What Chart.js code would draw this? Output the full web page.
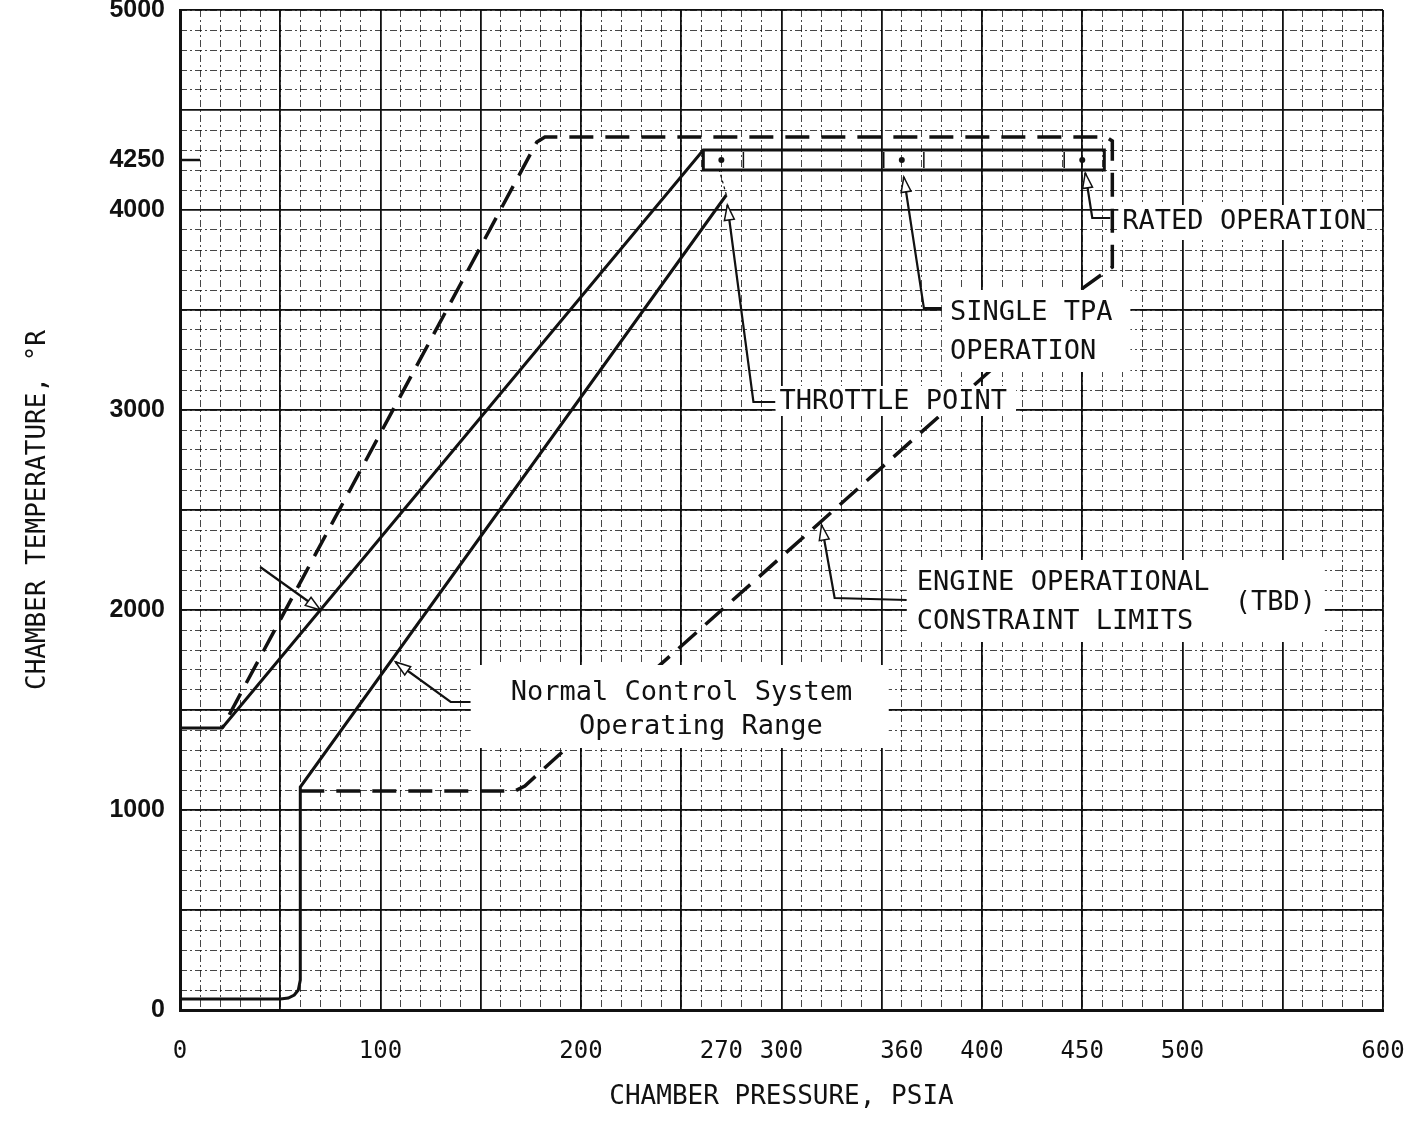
<!DOCTYPE html>
<html>
<head>
<meta charset="utf-8">
<script src="https://cdn.jsdelivr.net/npm/chart.js@4.4.1/dist/chart.umd.min.js"></script>
<style>
  html, body { margin: 0; padding: 0; background: #fff; }
  #wrap { width: 1407px; height: 1122px; }
</style>
</head>
<body>
<div id="wrap"><canvas id="chart" width="1407" height="1122"></canvas></div>
<script>
// axis ticks (chamber pressure in psia, chamber temperature in deg R)
const xTicks = [0, 100, 200, 270, 300, 360, 400, 450, 500, 600];
const yTicks = [0, 1000, 2000, 3000, 4000, 4250, 5000];

// upper solid edge of the normal range, running into the rated band box
const upperP = [0, 21, 261, 461, 461, 261, 261];
const upperT = [1410, 1410, 4300, 4300, 4200, 4200, 4300];

// lower solid edge: start transient, step, then ramp to the throttle point
const lowerP = [0, 50, 54, 57, 59, 60, 60, 272.5];
const lowerT = [55, 55, 60, 75, 100, 150, 1115, 4075];

// dashed engine constraint envelope
const limitP = [60, 167, 172, 189, 451, 465, 465, 462, 182, 178, 21];
const limitT = [1095, 1095, 1120, 1275, 3615, 3715, 4345, 4365, 4365, 4340, 1410];

// thin link from the ramp end up to the band
const linkP = [272.5, 269];
const linkT = [4075, 4200];

// operating points inside the band, and the band dividers
const pointP = [270, 360, 450];
const pointT = [4250, 4250, 4250];
const dividerP = [281, 351, 371, 441];
const dividerLo = 4210;
const dividerHi = 4290;

// tick mark at 4250 on the left axis
const markP = [0, 10];
const markT = [4250, 4250];

// leader lines (first point carries the arrow head)
const leaderRated = { p: [451.5, 455, 464], t: [4185, 3960, 3960] };
const leaderTpa = { p: [361, 371, 381], t: [4165, 3510, 3510] };
const leaderThrottle = { p: [273, 286, 297], t: [4025, 3040, 3040] };
const leaderEngine = { p: [320, 326.5, 362.5], t: [2425, 2060, 2050] };
const leaderNormal = { p: [107.5, 135, 145], t: [1740, 1540, 1540] };
const leaderUpper = { p: [70, 40], t: [2000, 2215] };
const leaders = [leaderRated, leaderTpa, leaderThrottle, leaderEngine, leaderNormal, leaderUpper];

function pts(ps, ts) {
  return ps.map((p, i) => ({ x: p, y: ts[i] }));
}

function dividerPts() {
  const out = [];
  dividerP.forEach(p => {
    out.push({ x: p, y: dividerLo }, { x: p, y: dividerHi }, { x: p, y: null });
  });
  return out;
}

const lineBase = { showLine: true, pointRadius: 0, borderColor: "#111", tension: 0, fill: false };

const datasets = [
  { ...lineBase, data: pts(upperP, upperT), borderWidth: 3 },
  { ...lineBase, data: pts(lowerP, lowerT), borderWidth: 3 },
  { ...lineBase, data: pts(limitP, limitT), borderWidth: 3.5, borderDash: [24, 12] },
  { ...lineBase, data: pts(linkP, linkT), borderWidth: 1.2, borderDash: [3, 3] },
  { ...lineBase, data: dividerPts(), borderWidth: 1.5, spanGaps: false },
  { ...lineBase, data: pts(markP, markT), borderWidth: 2.5 },
  { showLine: false, data: pts(pointP, pointT), pointRadius: 3, pointBackgroundColor: "#111", pointBorderWidth: 0 }
];
leaders.forEach(l => {
  datasets.push({ ...lineBase, data: pts(l.p, l.t), borderWidth: 2.2 });
});

// label boxes: [pLeft, pRight, tLow, tHigh], text lines: [text, pLeft, tCenter]
const notes = [
  { box: [468, 592, 3850, 4025], lines: [["RATED OPERATION", 470, 3940]] },
  { box: [380, 474, 3190, 3600], lines: [["SINGLE TPA", 384, 3485], ["OPERATION", 384, 3290]] },
  { box: [297, 417, 2970, 3120], lines: [["THROTTLE POINT", 299, 3040]] },
  { box: [362.5, 571, 1840, 2250], lines: [["ENGINE OPERATIONAL", 367.5, 2135], ["CONSTRAINT LIMITS", 367.5, 1940], ["(TBD)", 526, 2035]] },
  { box: [145, 353.5, 1310, 1725], lines: [["Normal Control System", 165, 1585], ["Operating Range", 199, 1415]] }
];

const notesPlugin = {
  id: "notes",
  afterDatasetsDraw(chart) {
    const { ctx, scales: { x, y } } = chart;
    ctx.save();
    notes.forEach(n => {
      const [p0, p1, t0, t1] = n.box;
      const x0 = x.getPixelForValue(p0), x1 = x.getPixelForValue(p1);
      const y0 = y.getPixelForValue(t1), y1 = y.getPixelForValue(t0);
      ctx.fillStyle = "#fff";
      ctx.fillRect(x0, y0, x1 - x0, y1 - y0);
    });
    ctx.fillStyle = "#111";
    ctx.font = '27px "DejaVu Sans Mono"';
    ctx.textBaseline = "middle";
    ctx.textAlign = "left";
    notes.forEach(n => {
      n.lines.forEach(([txt, p, t]) => {
        ctx.fillText(txt, x.getPixelForValue(p), y.getPixelForValue(t));
      });
    });
    // open arrow heads on the leaders
    ctx.strokeStyle = "#111";
    ctx.lineWidth = 1.5;
    leaders.forEach(l => {
      const tx = x.getPixelForValue(l.p[0]), ty = y.getPixelForValue(l.t[0]);
      const bx = x.getPixelForValue(l.p[1]), by = y.getPixelForValue(l.t[1]);
      const a = Math.atan2(ty - by, tx - bx);
      const len = 15, w = 5;
      const cx = tx - len * Math.cos(a), cy = ty - len * Math.sin(a);
      ctx.beginPath();
      ctx.moveTo(tx, ty);
      ctx.lineTo(cx + w * Math.sin(a), cy - w * Math.cos(a));
      ctx.lineTo(cx - w * Math.sin(a), cy + w * Math.cos(a));
      ctx.closePath();
      ctx.fillStyle = "#fff";
      ctx.fill();
      ctx.stroke();
    });
    ctx.restore();
  }
};

function gridScale(axis, step, major) {
  const s = {
    type: "linear",
    min: 0,
    max: axis === "x" ? 600 : 5000,
    position: axis === "x" ? "bottom" : "left",
    ticks: { display: false, stepSize: step },
    grid: {
      color: major ? "#111" : "rgba(0,0,0,0.72)",
      lineWidth: major ? 1.8 : 1,
      drawTicks: false
    },
    border: { display: false, dash: major ? [] : [7, 3, 2, 3] },
    afterFit(sc) {
      if (axis === "x") sc.height = 0; else sc.width = 0;
      sc.paddingTop = sc.paddingBottom = sc.paddingLeft = sc.paddingRight = 0;
    }
  };
  return s;
}

new Chart(document.getElementById("chart"), {
  type: "scatter",
  data: { datasets },
  options: {
    responsive: false,
    animation: false,
    devicePixelRatio: 1,
    layout: { padding: { top: 10, right: 24, left: 0, bottom: 0 } },
    plugins: { legend: { display: false }, tooltip: { enabled: false } },
    scales: {
      x: {
        type: "linear", min: 0, max: 600, position: "bottom",
        afterBuildTicks: s => { s.ticks = xTicks.map(v => ({ value: v })); },
        afterFit: s => { s.height = 112; s.paddingLeft = s.paddingRight = 0; },
        ticks: {
          autoSkip: false, maxRotation: 0, padding: 27, color: "#111",
          font: { family: "DejaVu Sans Mono", size: 24 },
          callback: v => String(v)
        },
        grid: { display: false, drawTicks: false },
        border: { display: true, color: "#111", width: 3 },
        title: {
          display: true, text: "CHAMBER PRESSURE, PSIA", color: "#111",
          font: { family: "DejaVu Sans Mono", size: 26 }, padding: { top: 0, bottom: 9 }
        }
      },
      y: {
        type: "linear", min: 0, max: 5000, position: "left",
        afterBuildTicks: s => { s.ticks = yTicks.map(v => ({ value: v })); },
        afterFit: s => { s.width = 180; s.paddingTop = s.paddingBottom = 0; },
        ticks: {
          autoSkip: false, padding: 15, color: "#111",
          font: { family: "Liberation Sans", size: 25, weight: "bold" },
          callback: v => String(v)
        },
        grid: { display: false, drawTicks: false },
        border: { display: true, color: "#111", width: 3 },
        title: {
          display: true, text: "CHAMBER TEMPERATURE, °R", color: "#111",
          font: { family: "DejaVu Sans Mono", size: 26 }, padding: { top: 23, bottom: 0 }
        }
      },
      xMinor: gridScale("x", 10, false),
      xMajor: gridScale("x", 50, true),
      yMinor: gridScale("y", 100, false),
      yMajor: gridScale("y", 500, true)
    }
  },
  plugins: [notesPlugin]
});
</script>
</body>
</html>
